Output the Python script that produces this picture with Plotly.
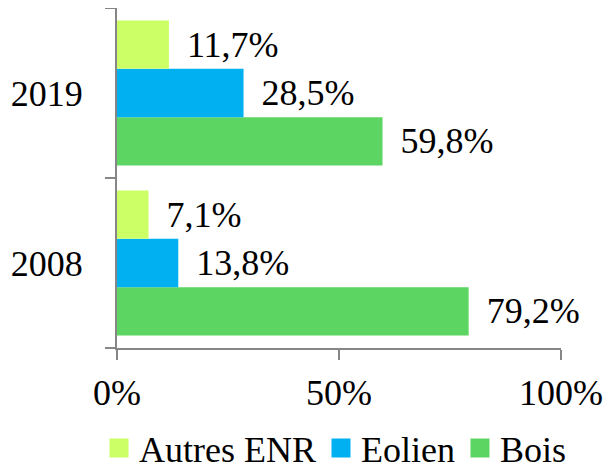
import plotly.graph_objects as go

years = ["2008", "2019"]
series_names = ["Bois", "Eolien", "Autres ENR"]
legend_order = ["Autres ENR", "Eolien", "Bois"]
bois = [79.2, 59.8]
eolien = [13.8, 28.5]
autres = [7.1, 11.7]
x_ticks = [0, 50, 100]
x_tick_labels = ["0%", "50%", "100%"]

colors = {"Bois": "#5DD563", "Eolien": "#00B0F0", "Autres ENR": "#CCFF66"}
values = {"Bois": bois, "Eolien": eolien, "Autres ENR": autres}

FONT = "Liberation Serif"
AXC = "#868686"

fig = go.Figure()
for name in series_names:
    fig.add_trace(go.Bar(
        y=years, x=values[name], name=name, orientation="h",
        marker=dict(color=colors[name], line=dict(width=0)),
        texttemplate="\u00a0\u2006%{x:.1f}%", textposition="outside",
        cliponaxis=False, constraintext="none", showlegend=False,
        textfont=dict(family=FONT, size=36, color="black"),
    ))

# legend entries (square swatches)
for name in legend_order:
    fig.add_trace(go.Scatter(
        x=[None], y=[None], mode="markers", name=name, showlegend=True,
        marker=dict(symbol="square", size=16, color=colors[name],
                    line=dict(width=3, color=colors[name])),
    ))

fig.update_layout(
    width=607, height=461,
    margin=dict(l=109, r=54, t=0, b=121, autoexpand=False),
    paper_bgcolor="white", plot_bgcolor="white",
    barmode="group", bargap=0.146, bargroupgap=0,
    separators=", ",
    font=dict(family=FONT, size=36, color="black"),
    legend=dict(orientation="h", x=-0.0405, xanchor="left", y=-0.206, yanchor="top",
                traceorder="normal", font=dict(family=FONT, size=36, color="black"),
                itemwidth=30, itemsizing="trace", tracegroupgap=0, bgcolor="rgba(0,0,0,0)"),
    xaxis=dict(range=[0, 100], tickvals=x_ticks, ticktext=x_tick_labels,
               showgrid=False, zeroline=False, showline=True, linecolor=AXC, linewidth=2,
               ticks="outside", ticklen=10, tickcolor=AXC, tickwidth=2, automargin=False,
               ticklabelstandoff=2, tickfont=dict(family=FONT, size=36, color="black")),
    yaxis=dict(type="category", categoryorder="array", categoryarray=years,
               range=[-0.5, 1.5], showgrid=False, zeroline=False, showline=True,
               linecolor=AXC, linewidth=2, ticks="outside", ticklen=10, automargin=False,
               tickcolor=AXC, tickwidth=2, tickson="boundaries",
               ticklabelstandoff=25, tickfont=dict(family=FONT, size=36, color="black")),
)

fig.write_html("out.html")
